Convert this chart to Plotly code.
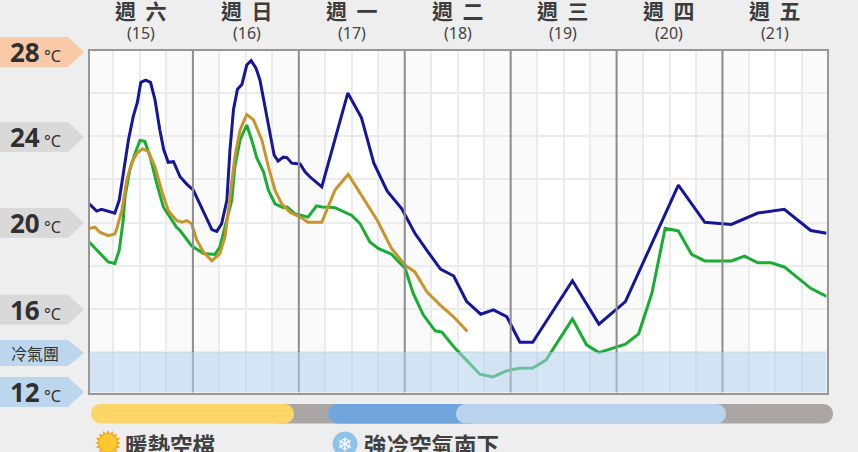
import math
import plotly.graph_objects as go

W, H = 858, 452
FONT = "Noto Sans CJK TC"

DAY_LABELS = ["週  六", "週  日", "週  一", "週  二", "週  三", "週  四", "週  五"]
DATE_LABELS = ["(15)", "(16)", "(17)", "(18)", "(19)", "(20)", "(21)"]
DAY_HOURS = [24, 48, 72, 96, 120, 144]
MINOR_HOURS = [h for h in range(6, 168, 6)]
TEMP_TICKS = [14, 16, 18, 20, 22, 24, 26]
Y_MIN, Y_MAX = 12.12, 27.95
X_MIN, X_MAX = 0.57, 167.57

blue_hours = [0.5, 2.2, 3.3, 4.8, 6.3, 7.3, 8.2, 9.4, 10.5, 11.4, 12.2, 13.3, 14.4, 15.4, 16.5, 17.4, 18.4, 19.6,
              21.1, 22.6, 24.1, 25.6, 27.1, 28.3, 29.4, 30.5, 31.7, 32.4, 33.2, 34.1, 35.1, 36.2, 37.2, 38.3, 39.2,
              40.3, 41.5, 42.4, 43.3, 44.5, 45.3, 46.4, 48.3, 49.4, 50.5, 52.8, 53.2, 59.1, 62.2, 65, 68, 71.3, 74.3,
              77.3, 80.1, 83.1, 86, 89.2, 92.1, 95.1, 98.1, 101, 110, 116, 122, 134, 140, 146, 152, 158, 164, 167.6]
blue_temps = [20.87, 20.53, 20.61, 20.51, 20.43, 21.03, 22.28, 23.84, 24.93, 25.55, 26.5, 26.6, 26.5, 25.7, 24.30,
              23.37, 22.79, 22.82, 22.12, 21.78, 21.50, 20.87, 20.25, 19.67, 19.59, 19.94, 21.03, 23.37, 25.24, 26.18,
              26.4, 27.3, 27.5, 27.15, 26.6, 25.39, 24.15, 23.13, 22.85, 23.03, 23.01, 22.75, 22.71, 22.35, 22.12,
              21.68, 21.65, 26.0, 24.85, 22.75, 21.46, 20.65, 19.5, 18.63, 17.84, 17.52, 16.35, 15.75, 15.95, 15.64,
              14.45, 14.45, 17.3, 15.29, 16.33, 21.73, 20.01, 19.91, 20.44, 20.61, 19.63, 19.5]

green_hours = [0.5, 2.9, 4.8, 6.3, 7.3, 8.2, 8.6, 9.7, 10.9, 12, 13.1, 14.3, 15.8, 17.3, 18.8, 20.3, 21.1, 23.7, 26.4,
               29, 30.1, 31.7, 32.8, 33.5, 34.7, 36.2, 37.3, 38.5, 40, 41.1, 42.6, 44.5, 45.3, 47.1, 49, 50.1, 52, 53.2,
               56.2, 60, 61.9, 64.1, 66, 69, 72.1, 73.9, 76.2, 78.9, 80.4, 83.2, 86, 89, 92, 95, 98, 101, 104, 110,
               113.2, 116, 122, 125, 128, 131, 134, 137, 140, 146, 149, 152, 155, 158, 164, 167.6]
green_temps = [19.1, 18.56, 18.17, 18.1, 18.71, 20.09, 21.18, 22.43, 23.21, 23.80, 23.76, 23.05, 21.81, 20.72, 20.25,
               19.78, 19.63, 18.92, 18.56, 18.52, 18.86, 20.09, 21.03, 22.59, 23.84, 24.52, 23.84, 22.98, 22.35, 21.50,
               20.87, 20.69, 20.72, 20.41, 20.33, 20.25, 20.77, 20.72, 20.69, 20.33, 19.94, 19.1, 18.8, 18.53, 17.87,
               16.72, 15.72, 14.98, 14.92, 14.22, 13.62, 12.97, 12.84, 13.12, 13.24, 13.25, 13.62, 15.53, 14.33, 13.97,
               14.36, 14.84, 16.72, 19.73, 19.61, 18.52, 18.22, 18.22, 18.44, 18.13, 18.13, 17.94, 16.95, 16.57]

orange_hours = [0.5, 1.8, 2.9, 4.8, 6.3, 6.7, 7.9, 9, 10.1, 11.3, 12.6, 13.9, 15.4, 16.9, 18.4, 20.3, 21.5, 22.6, 23.7,
                24.9, 26.4, 28.3, 30.1, 31.3, 32.4, 33.5, 34.7, 36.2, 37.7, 39.6, 41.1, 42.6, 44.1, 46, 48.3, 50.1,
                53.2, 56.2, 59.2, 65.8, 69, 72.1, 74.3, 77, 80, 83, 86.2]
orange_temps = [19.72, 19.78, 19.55, 19.39, 19.47, 19.67, 20.56, 21.96, 22.75, 23.21, 23.42, 23.29, 22.59, 21.50, 20.56,
                20.09, 20.01, 20.09, 19.94, 19.18, 18.63, 18.22, 18.56, 19.35, 21.18, 23.05, 24.30, 25.0, 24.77, 23.84,
                22.59, 21.50, 20.87, 20.48, 20.25, 20.01, 20.01, 21.50, 22.23, 20.09, 18.8, 18.02, 17.71, 16.79, 16.18,
                15.64, 14.95]

BLUE, GREEN, ORANGE = "#16169a", "#18ae33", "#c8952c"


def X(p):
    return p / W


def Y(p):
    return 1 - p / H


def pts(points, close=True):
    d = "M" + " L".join(f"{X(x):.5f},{Y(y):.5f}" for x, y in points)
    return d + (" Z" if close else "")


def rounded(x0, x1, y0, y1, left=True, right=True):
    r = (y1 - y0) / 2
    k = r * 0.5523
    m = y0 + r
    d = f"M{X(x0 + r):.5f},{Y(y0):.5f} L{X(x1 - r):.5f},{Y(y0):.5f} "
    d += (f"C{X(x1 - r + k):.5f},{Y(y0):.5f} {X(x1):.5f},{Y(m - k):.5f} {X(x1):.5f},{Y(m):.5f} "
          f"C{X(x1):.5f},{Y(m + k):.5f} {X(x1 - r + k):.5f},{Y(y1):.5f} {X(x1 - r):.5f},{Y(y1):.5f} ")
    d += f"L{X(x0 + r):.5f},{Y(y1):.5f} "
    d += (f"C{X(x0 + r - k):.5f},{Y(y1):.5f} {X(x0):.5f},{Y(m + k):.5f} {X(x0):.5f},{Y(m):.5f} "
          f"C{X(x0):.5f},{Y(m - k):.5f} {X(x0 + r - k):.5f},{Y(y0):.5f} {X(x0 + r):.5f},{Y(y0):.5f} ")
    return d + "Z"


def circle(cx, cy, r, fill):
    return dict(type="circle", xref="paper", yref="paper", x0=X(cx - r), x1=X(cx + r), y0=Y(cy + r), y1=Y(cy - r),
                fillcolor=fill, line=dict(width=0), layer="above")


def path(d, fill):
    return dict(type="path", xref="paper", yref="paper", path=d, fillcolor=fill, line=dict(width=0), layer="above")


fig = go.Figure()
for hrs, vals, col in [(green_hours, green_temps, GREEN), (blue_hours, blue_temps, BLUE),
                       (orange_hours, orange_temps, ORANGE)]:
    fig.add_trace(go.Scatter(x=hrs, y=vals, mode="lines", line=dict(color=col, width=3), showlegend=False))

shapes = []
for d in range(7):
    for a, b in [(0, 6), (18, 24)]:
        shapes.append(dict(type="rect", xref="x", yref="y", x0=max(d * 24 + a, X_MIN), x1=min(d * 24 + b, X_MAX),
                           y0=Y_MIN, y1=Y_MAX, fillcolor="#fafafa", line=dict(width=0), layer="below"))
for h in DAY_HOURS:
    shapes.append(dict(type="line", xref="x", yref="y", x0=h, x1=h, y0=Y_MIN, y1=Y_MAX,
                       line=dict(color="#8e8e8e", width=2), layer="above"))
shapes.append(dict(type="rect", xref="x", yref="y", x0=X_MIN, x1=X_MAX, y0=Y_MIN, y1=14,
                   fillcolor="rgba(176,208,238,0.55)", line=dict(width=0), layer="above"))

tags = [(52, 15, "#f9c9a8"), (137, 15, "#d9d9d9"), (223, 15, "#d9d9d9"), (309.5, 15, "#d9d9d9"),
        (353, 13, "#bcd6ee"), (392, 15, "#bcd6ee")]
for cy, hh, col in tags:
    shapes.append(path(pts([(0, cy - hh), (68, cy - hh), (84, cy), (68, cy + hh), (0, cy + hh)]), col))

shapes.append(path(rounded(270, 833, 404, 423.5), "#aaa6a6"))
shapes.append(path(rounded(91, 294, 404, 423.5), "#fdd667"))
shapes.append(path(rounded(328, 480, 404, 423.5), "#71a6dc"))
shapes.append(path(rounded(456, 726, 404, 423.5), "#b9d3ee"))

sun = []
for i in range(32):
    a = math.pi * 2 * i / 32
    r = 13 if i % 2 == 0 else 9.5
    sun.append((108 + r * math.cos(a), 443 + r * math.sin(a)))
shapes.append(path(pts(sun), "#f4a623"))
shapes.append(circle(108, 443, 9, "#fdc92f"))
shapes.append(circle(345, 444, 12.5, "#8fc3ea"))

ann = []


def text(x, y, t, size, color="#3a3a3a", anchor="center", font=FONT):
    ann.append(dict(xref="paper", yref="paper", x=X(x), y=Y(y), text=t, showarrow=False, xanchor=anchor,
                    yanchor="middle", font=dict(size=size, color=color, family=font)))


for i, (d, n) in enumerate(zip(DAY_LABELS, DATE_LABELS)):
    cx = 141 + 105.6 * i
    text(cx, 10, f"<b>{d}</b>", 21, "#3c3c3c")
    text(cx, 33, n, 16, "#444444", font="Noto Sans")
for lab, cy in [("28", 52), ("24", 137), ("20", 223), ("16", 309.5), ("12", 392)]:
    text(8, cy, f"<b>{lab}</b><span style='font-size:16px;font-weight:normal'> °C</span>", 26, "#303030", "left",
         "Noto Sans")
text(9, 353, "冷氣團", 16, "#303030", "left")
text(123, 444, "<b>暖熱空檔</b>", 22.5, "#404040", "left")
text(362, 444, "<b>強冷空氣南下</b>", 22.5, "#404040", "left")
text(345, 444, "❄", 19, "#ffffff", font="DejaVu Sans")

fig.update_layout(
    width=W, height=H, margin=dict(l=0, r=0, t=0, b=0), paper_bgcolor="#eeeeee", plot_bgcolor="#ffffff",
    showlegend=False, shapes=shapes, annotations=ann,
    xaxis=dict(domain=[X(89.5), X(826.5)], range=[X_MIN, X_MAX], tickvals=MINOR_HOURS, showticklabels=False,
               ticks="", gridcolor="#ebebeb", gridwidth=2, zeroline=False, showline=True, linecolor="#979797",
               linewidth=2, mirror=True),
    yaxis=dict(domain=[Y(392.5), Y(51)], range=[Y_MIN, Y_MAX], tickvals=TEMP_TICKS, showticklabels=False, ticks="",
               gridcolor="#ebebeb", gridwidth=2, zeroline=False, showline=True, linecolor="#979797", linewidth=2,
               mirror=True),
)
fig.write_html("out.html", config={"displayModeBar": False},
               post_script="document.body.style.margin='0';document.body.style.background='#eeeeee';")
